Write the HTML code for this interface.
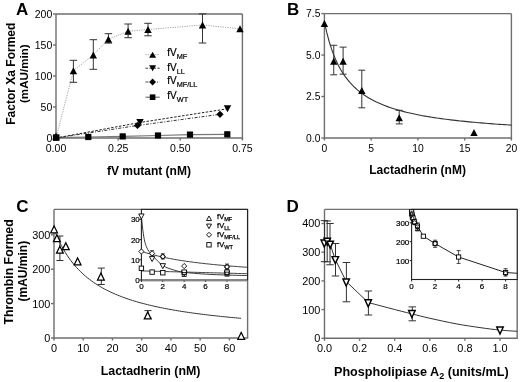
<!DOCTYPE html>
<html><head><meta charset="utf-8"><style>
html,body{margin:0;padding:0;background:#fff;}
svg{display:block;font-family:"Liberation Sans",sans-serif;will-change:transform;}
</style></head><body>
<svg width="520" height="382" viewBox="0 0 520 382">
<rect width="520" height="382" fill="#fff"/>
<text x="16.00" y="15.00" font-size="17" font-weight="bold" text-anchor="start" fill="#000" >A</text>
<line x1="56.00" y1="14.00" x2="242.40" y2="14.00" stroke="#6e6e6e" stroke-width="1.4" />
<line x1="242.40" y1="14.00" x2="242.40" y2="138.00" stroke="#6e6e6e" stroke-width="1.4" />
<line x1="56.00" y1="14.00" x2="56.00" y2="138.00" stroke="#6e6e6e" stroke-width="1.4" />
<line x1="55.30" y1="138.00" x2="243.10" y2="138.00" stroke="#6e6e6e" stroke-width="1.4" />
<line x1="53.00" y1="138.00" x2="56.00" y2="138.00" stroke="#6e6e6e" stroke-width="1.4" />
<text x="52.30" y="141.80" font-size="10.5" font-weight="normal" text-anchor="end" fill="#000" >0</text>
<line x1="53.00" y1="107.00" x2="56.00" y2="107.00" stroke="#6e6e6e" stroke-width="1.4" />
<text x="52.30" y="110.80" font-size="10.5" font-weight="normal" text-anchor="end" fill="#000" >50</text>
<line x1="53.00" y1="76.00" x2="56.00" y2="76.00" stroke="#6e6e6e" stroke-width="1.4" />
<text x="52.30" y="79.80" font-size="10.5" font-weight="normal" text-anchor="end" fill="#000" >100</text>
<line x1="53.00" y1="45.00" x2="56.00" y2="45.00" stroke="#6e6e6e" stroke-width="1.4" />
<text x="52.30" y="48.80" font-size="10.5" font-weight="normal" text-anchor="end" fill="#000" >150</text>
<line x1="53.00" y1="14.00" x2="56.00" y2="14.00" stroke="#6e6e6e" stroke-width="1.4" />
<text x="52.30" y="17.80" font-size="10.5" font-weight="normal" text-anchor="end" fill="#000" >200</text>
<line x1="56.00" y1="138.00" x2="56.00" y2="140.50" stroke="#6e6e6e" stroke-width="1.4" />
<text x="56.00" y="151.50" font-size="10.5" font-weight="normal" text-anchor="middle" fill="#000" >0.00</text>
<line x1="118.13" y1="138.00" x2="118.13" y2="140.50" stroke="#6e6e6e" stroke-width="1.4" />
<text x="118.13" y="151.50" font-size="10.5" font-weight="normal" text-anchor="middle" fill="#000" >0.25</text>
<line x1="180.27" y1="138.00" x2="180.27" y2="140.50" stroke="#6e6e6e" stroke-width="1.4" />
<text x="180.27" y="151.50" font-size="10.5" font-weight="normal" text-anchor="middle" fill="#000" >0.50</text>
<line x1="242.40" y1="138.00" x2="242.40" y2="140.50" stroke="#6e6e6e" stroke-width="1.4" />
<text x="242.40" y="151.50" font-size="10.5" font-weight="normal" text-anchor="middle" fill="#000" >0.75</text>
<text x="148.90" y="174.50" font-size="12" font-weight="bold" text-anchor="middle" fill="#000" >fV mutant (nM)</text>
<text transform="translate(14.50,73.70) rotate(-90)" x="0" y="0" font-size="12" font-weight="bold" text-anchor="middle" fill="#000">Factor Xa Formed</text>
<text transform="translate(28.00,73.70) rotate(-90)" x="0" y="0" font-size="11.6" font-weight="bold" text-anchor="middle" fill="#000">(mAU/min)</text>
<polyline points="56.20,137.60 88.30,137.00 122.70,136.40 158.00,135.50 190.00,134.60 227.30,134.30" fill="none" stroke="#777" stroke-width="1.2" />
<polyline points="56.00,138.00 140.00,122.50 227.50,108.80" fill="none" stroke="#222" stroke-width="1.0" stroke-dasharray="2.5,1.5"/>
<polyline points="56.00,138.00 137.50,125.50 220.00,114.30" fill="none" stroke="#333" stroke-width="1.0" stroke-dasharray="3,1.5,1,1.5"/>
<polyline points="56.00,138.00 73.40,70.70 93.30,55.00 108.40,39.30 128.10,31.30 148.00,29.50 202.50,25.00 240.00,28.80" fill="none" stroke="#999" stroke-width="0.9" stroke-dasharray="1.2,1.2"/>
<line x1="73.40" y1="60.30" x2="73.40" y2="82.30" stroke="#333" stroke-width="1.0" />
<line x1="69.65" y1="60.30" x2="77.15" y2="60.30" stroke="#333" stroke-width="1.0" />
<line x1="69.65" y1="82.30" x2="77.15" y2="82.30" stroke="#333" stroke-width="1.0" />
<line x1="93.30" y1="39.70" x2="93.30" y2="69.30" stroke="#333" stroke-width="1.0" />
<line x1="89.55" y1="39.70" x2="97.05" y2="39.70" stroke="#333" stroke-width="1.0" />
<line x1="89.55" y1="69.30" x2="97.05" y2="69.30" stroke="#333" stroke-width="1.0" />
<line x1="108.40" y1="33.70" x2="108.40" y2="43.10" stroke="#333" stroke-width="1.0" />
<line x1="104.65" y1="33.70" x2="112.15" y2="33.70" stroke="#333" stroke-width="1.0" />
<line x1="104.65" y1="43.10" x2="112.15" y2="43.10" stroke="#333" stroke-width="1.0" />
<line x1="128.10" y1="24.00" x2="128.10" y2="37.70" stroke="#333" stroke-width="1.0" />
<line x1="124.35" y1="24.00" x2="131.85" y2="24.00" stroke="#333" stroke-width="1.0" />
<line x1="124.35" y1="37.70" x2="131.85" y2="37.70" stroke="#333" stroke-width="1.0" />
<line x1="148.00" y1="23.30" x2="148.00" y2="35.80" stroke="#333" stroke-width="1.0" />
<line x1="144.25" y1="23.30" x2="151.75" y2="23.30" stroke="#333" stroke-width="1.0" />
<line x1="144.25" y1="35.80" x2="151.75" y2="35.80" stroke="#333" stroke-width="1.0" />
<line x1="202.50" y1="13.90" x2="202.50" y2="43.00" stroke="#333" stroke-width="1.0" />
<line x1="198.75" y1="13.90" x2="206.25" y2="13.90" stroke="#333" stroke-width="1.0" />
<line x1="198.75" y1="43.00" x2="206.25" y2="43.00" stroke="#333" stroke-width="1.0" />
<polygon points="73.40,67.20 77.10,74.20 69.70,74.20" fill="#000" stroke="none" stroke-width="0" stroke-linejoin="miter"/>
<polygon points="93.30,51.50 97.00,58.50 89.60,58.50" fill="#000" stroke="none" stroke-width="0" stroke-linejoin="miter"/>
<polygon points="108.40,35.80 112.10,42.80 104.70,42.80" fill="#000" stroke="none" stroke-width="0" stroke-linejoin="miter"/>
<polygon points="128.10,27.80 131.80,34.80 124.40,34.80" fill="#000" stroke="none" stroke-width="0" stroke-linejoin="miter"/>
<polygon points="148.00,26.00 151.70,33.00 144.30,33.00" fill="#000" stroke="none" stroke-width="0" stroke-linejoin="miter"/>
<polygon points="202.50,21.50 206.20,28.50 198.80,28.50" fill="#000" stroke="none" stroke-width="0" stroke-linejoin="miter"/>
<polygon points="240.00,25.30 243.70,32.30 236.30,32.30" fill="#000" stroke="none" stroke-width="0" stroke-linejoin="miter"/>
<polygon points="56.00,132.50 59.70,139.50 52.30,139.50" fill="#000" stroke="none" stroke-width="0" stroke-linejoin="miter"/>
<polygon points="140.00,126.00 143.70,119.00 136.30,119.00" fill="#000" stroke="none" stroke-width="0" stroke-linejoin="miter"/>
<polygon points="227.50,112.30 231.20,105.30 223.80,105.30" fill="#000" stroke="none" stroke-width="0" stroke-linejoin="miter"/>
<polygon points="137.50,121.90 141.10,125.50 137.50,129.10 133.90,125.50" fill="#000" stroke="none" stroke-width="0"/>
<polygon points="220.00,110.70 223.60,114.30 220.00,117.90 216.40,114.30" fill="#000" stroke="none" stroke-width="0"/>
<rect x="52.90" y="134.30" width="6.60" height="6.60" fill="#000" stroke="none" stroke-width="0"/>
<rect x="85.20" y="133.90" width="6.20" height="6.20" fill="#000" stroke="none" stroke-width="0"/>
<rect x="119.60" y="133.30" width="6.20" height="6.20" fill="#000" stroke="none" stroke-width="0"/>
<rect x="154.90" y="132.40" width="6.20" height="6.20" fill="#000" stroke="none" stroke-width="0"/>
<rect x="186.90" y="131.50" width="6.20" height="6.20" fill="#000" stroke="none" stroke-width="0"/>
<rect x="224.20" y="131.20" width="6.20" height="6.20" fill="#000" stroke="none" stroke-width="0"/>
<polyline points="145.50,54.70 159.70,54.70" fill="none" stroke="#999" stroke-width="0.9" stroke-dasharray="1.2,1.2"/>
<polygon points="152.60,51.70 156.10,57.70 149.10,57.70" fill="#000" stroke="none" stroke-width="0" stroke-linejoin="miter"/>
<text x="167.3" y="56.30" font-size="10" fill="#000" stroke="#000" stroke-width="0.2">fV<tspan font-size="7.3" dy="3">MF</tspan></text>
<polyline points="145.50,68.20 159.70,68.20" fill="none" stroke="#222" stroke-width="0.9" stroke-dasharray="2.5,1.5"/>
<polygon points="152.60,71.20 156.10,65.20 149.10,65.20" fill="#000" stroke="none" stroke-width="0" stroke-linejoin="miter"/>
<text x="167.3" y="70.80" font-size="10" fill="#000" stroke="#000" stroke-width="0.2">fV<tspan font-size="7.3" dy="3">LL</tspan></text>
<polyline points="145.50,82.00 159.70,82.00" fill="none" stroke="#333" stroke-width="0.9" stroke-dasharray="3,1.5,1,1.5"/>
<polygon points="152.60,78.60 156.00,82.00 152.60,85.40 149.20,82.00" fill="#000" stroke="none" stroke-width="0"/>
<text x="167.3" y="84.20" font-size="10" fill="#000" stroke="#000" stroke-width="0.2">fV<tspan font-size="7.3" dy="3">MF/LL</tspan></text>
<polyline points="145.50,97.20 159.70,97.20" fill="none" stroke="#777" stroke-width="1.2" />
<rect x="149.80" y="94.40" width="5.60" height="5.60" fill="#000" stroke="none" stroke-width="0"/>
<text x="167.3" y="99.30" font-size="10" fill="#000" stroke="#000" stroke-width="0.2">fV<tspan font-size="7.3" dy="3">WT</tspan></text>
<text x="287.00" y="15.00" font-size="17" font-weight="bold" text-anchor="start" fill="#000" >B</text>
<line x1="324.40" y1="13.60" x2="511.40" y2="13.60" stroke="#6e6e6e" stroke-width="1.4" />
<line x1="511.40" y1="13.60" x2="511.40" y2="138.00" stroke="#6e6e6e" stroke-width="1.4" />
<line x1="324.40" y1="13.60" x2="324.40" y2="138.00" stroke="#6e6e6e" stroke-width="1.4" />
<line x1="323.70" y1="138.00" x2="512.10" y2="138.00" stroke="#6e6e6e" stroke-width="1.4" />
<line x1="321.40" y1="138.00" x2="324.40" y2="138.00" stroke="#6e6e6e" stroke-width="1.4" />
<text x="320.40" y="141.70" font-size="10.3" font-weight="normal" text-anchor="end" fill="#000" >0.0</text>
<line x1="321.40" y1="96.53" x2="324.40" y2="96.53" stroke="#6e6e6e" stroke-width="1.4" />
<text x="320.40" y="100.23" font-size="10.3" font-weight="normal" text-anchor="end" fill="#000" >2.5</text>
<line x1="321.40" y1="55.07" x2="324.40" y2="55.07" stroke="#6e6e6e" stroke-width="1.4" />
<text x="320.40" y="58.77" font-size="10.3" font-weight="normal" text-anchor="end" fill="#000" >5.0</text>
<line x1="321.40" y1="13.60" x2="324.40" y2="13.60" stroke="#6e6e6e" stroke-width="1.4" />
<text x="320.40" y="17.30" font-size="10.3" font-weight="normal" text-anchor="end" fill="#000" >7.5</text>
<line x1="324.40" y1="138.00" x2="324.40" y2="140.50" stroke="#6e6e6e" stroke-width="1.4" />
<text x="324.40" y="151.50" font-size="10.3" font-weight="normal" text-anchor="middle" fill="#000" >0</text>
<line x1="371.15" y1="138.00" x2="371.15" y2="140.50" stroke="#6e6e6e" stroke-width="1.4" />
<text x="371.15" y="151.50" font-size="10.3" font-weight="normal" text-anchor="middle" fill="#000" >5</text>
<line x1="417.90" y1="138.00" x2="417.90" y2="140.50" stroke="#6e6e6e" stroke-width="1.4" />
<text x="417.90" y="151.50" font-size="10.3" font-weight="normal" text-anchor="middle" fill="#000" >10</text>
<line x1="464.65" y1="138.00" x2="464.65" y2="140.50" stroke="#6e6e6e" stroke-width="1.4" />
<text x="464.65" y="151.50" font-size="10.3" font-weight="normal" text-anchor="middle" fill="#000" >15</text>
<line x1="511.40" y1="138.00" x2="511.40" y2="140.50" stroke="#6e6e6e" stroke-width="1.4" />
<text x="511.40" y="151.50" font-size="10.3" font-weight="normal" text-anchor="middle" fill="#000" >20</text>
<text x="417.60" y="174.00" font-size="12" font-weight="bold" text-anchor="middle" fill="#000" >Lactadherin (nM)</text>
<path d="M324.40,21.89 L326.74,32.45 L329.07,41.24 L331.41,48.69 L333.75,55.07 L336.09,60.60 L338.42,65.43 L340.76,69.70 L343.10,73.50 L345.44,76.89 L347.77,79.95 L350.11,82.71 L352.45,85.22 L354.79,87.52 L357.12,89.62 L359.46,91.56 L361.80,93.34 L364.14,95.00 L366.47,96.53 L368.81,97.96 L371.15,99.30 L373.49,100.55 L375.82,101.72 L378.16,102.82 L380.50,103.85 L382.84,104.83 L385.17,105.75 L387.51,106.62 L389.85,107.45 L392.19,108.23 L394.52,108.97 L396.86,109.68 L399.20,110.36 L401.54,111.00 L403.88,111.61 L406.21,112.20 L408.55,112.76 L410.89,113.30 L413.22,113.81 L415.56,114.30 L417.90,114.78 L420.24,115.23 L422.57,115.67 L424.91,116.09 L427.25,116.50 L429.59,116.89 L431.92,117.27 L434.26,117.63 L436.60,117.98 L438.94,118.32 L441.27,118.65 L443.61,118.97 L445.95,119.27 L448.29,119.57 L450.62,119.86 L452.96,120.14 L455.30,120.41 L457.64,120.67 L459.97,120.93 L462.31,121.17 L464.65,121.41 L466.99,121.65 L469.32,121.87 L471.66,122.09 L474.00,122.31 L476.34,122.52 L478.67,122.72 L481.01,122.92 L483.35,123.11 L485.69,123.30 L488.02,123.49 L490.36,123.67 L492.70,123.84 L495.04,124.01 L497.38,124.18 L499.71,124.34 L502.05,124.50 L504.39,124.65 L506.72,124.81 L509.06,124.95 L511.40,125.10" fill="none" stroke="#333" stroke-width="1.1" />
<line x1="333.75" y1="45.28" x2="333.75" y2="74.80" stroke="#333" stroke-width="1.0" />
<line x1="330.25" y1="45.28" x2="337.25" y2="45.28" stroke="#333" stroke-width="1.0" />
<line x1="330.25" y1="74.80" x2="337.25" y2="74.80" stroke="#333" stroke-width="1.0" />
<line x1="343.10" y1="47.11" x2="343.10" y2="74.14" stroke="#333" stroke-width="1.0" />
<line x1="339.60" y1="47.11" x2="346.60" y2="47.11" stroke="#333" stroke-width="1.0" />
<line x1="339.60" y1="74.14" x2="346.60" y2="74.14" stroke="#333" stroke-width="1.0" />
<line x1="361.80" y1="70.16" x2="361.80" y2="107.81" stroke="#333" stroke-width="1.0" />
<line x1="358.30" y1="70.16" x2="365.30" y2="70.16" stroke="#333" stroke-width="1.0" />
<line x1="358.30" y1="107.81" x2="365.30" y2="107.81" stroke="#333" stroke-width="1.0" />
<line x1="399.20" y1="110.30" x2="399.20" y2="123.90" stroke="#333" stroke-width="1.0" />
<line x1="395.70" y1="110.30" x2="402.70" y2="110.30" stroke="#333" stroke-width="1.0" />
<line x1="395.70" y1="123.90" x2="402.70" y2="123.90" stroke="#333" stroke-width="1.0" />
<polygon points="324.40,20.05 328.10,27.05 320.70,27.05" fill="#000" stroke="none" stroke-width="0" stroke-linejoin="miter"/>
<polygon points="333.75,57.87 337.45,64.87 330.05,64.87" fill="#000" stroke="none" stroke-width="0" stroke-linejoin="miter"/>
<polygon points="343.10,57.87 346.80,64.87 339.40,64.87" fill="#000" stroke="none" stroke-width="0" stroke-linejoin="miter"/>
<polygon points="361.80,86.90 365.50,93.90 358.10,93.90" fill="#000" stroke="none" stroke-width="0" stroke-linejoin="miter"/>
<polygon points="399.20,114.26 402.90,121.26 395.50,121.26" fill="#000" stroke="none" stroke-width="0" stroke-linejoin="miter"/>
<polygon points="474.00,129.03 477.70,136.03 470.30,136.03" fill="#000" stroke="none" stroke-width="0" stroke-linejoin="miter"/>
<text x="16.30" y="211.90" font-size="17" font-weight="bold" text-anchor="start" fill="#000" >C</text>
<line x1="54.00" y1="209.40" x2="247.60" y2="209.40" stroke="#6e6e6e" stroke-width="1.4" />
<line x1="247.60" y1="209.40" x2="247.60" y2="338.00" stroke="#6e6e6e" stroke-width="1.4" />
<line x1="54.00" y1="209.40" x2="54.00" y2="338.00" stroke="#6e6e6e" stroke-width="1.4" />
<line x1="53.30" y1="338.00" x2="248.30" y2="338.00" stroke="#6e6e6e" stroke-width="1.4" />
<line x1="51.00" y1="338.00" x2="54.00" y2="338.00" stroke="#6e6e6e" stroke-width="1.4" />
<text x="50.40" y="341.90" font-size="10.9" font-weight="normal" text-anchor="end" fill="#000" >0</text>
<line x1="51.00" y1="303.60" x2="54.00" y2="303.60" stroke="#6e6e6e" stroke-width="1.4" />
<text x="50.40" y="307.50" font-size="10.9" font-weight="normal" text-anchor="end" fill="#000" >100</text>
<line x1="51.00" y1="269.20" x2="54.00" y2="269.20" stroke="#6e6e6e" stroke-width="1.4" />
<text x="50.40" y="273.10" font-size="10.9" font-weight="normal" text-anchor="end" fill="#000" >200</text>
<line x1="51.00" y1="234.80" x2="54.00" y2="234.80" stroke="#6e6e6e" stroke-width="1.4" />
<text x="50.40" y="238.70" font-size="10.9" font-weight="normal" text-anchor="end" fill="#000" >300</text>
<line x1="54.00" y1="338.00" x2="54.00" y2="340.50" stroke="#6e6e6e" stroke-width="1.4" />
<text x="54.00" y="351.70" font-size="10.9" font-weight="normal" text-anchor="middle" fill="#000" >0</text>
<line x1="83.23" y1="338.00" x2="83.23" y2="340.50" stroke="#6e6e6e" stroke-width="1.4" />
<text x="83.23" y="351.70" font-size="10.9" font-weight="normal" text-anchor="middle" fill="#000" >10</text>
<line x1="112.46" y1="338.00" x2="112.46" y2="340.50" stroke="#6e6e6e" stroke-width="1.4" />
<text x="112.46" y="351.70" font-size="10.9" font-weight="normal" text-anchor="middle" fill="#000" >20</text>
<line x1="141.69" y1="338.00" x2="141.69" y2="340.50" stroke="#6e6e6e" stroke-width="1.4" />
<text x="141.69" y="351.70" font-size="10.9" font-weight="normal" text-anchor="middle" fill="#000" >30</text>
<line x1="170.92" y1="338.00" x2="170.92" y2="340.50" stroke="#6e6e6e" stroke-width="1.4" />
<text x="170.92" y="351.70" font-size="10.9" font-weight="normal" text-anchor="middle" fill="#000" >40</text>
<line x1="200.15" y1="338.00" x2="200.15" y2="340.50" stroke="#6e6e6e" stroke-width="1.4" />
<text x="200.15" y="351.70" font-size="10.9" font-weight="normal" text-anchor="middle" fill="#000" >50</text>
<line x1="229.38" y1="338.00" x2="229.38" y2="340.50" stroke="#6e6e6e" stroke-width="1.4" />
<text x="229.38" y="351.70" font-size="10.9" font-weight="normal" text-anchor="middle" fill="#000" >60</text>
<text x="150.60" y="375.20" font-size="12.4" font-weight="bold" text-anchor="middle" fill="#000" >Lactadherin (nM)</text>
<text transform="translate(12.60,271.90) rotate(-90)" x="0" y="0" font-size="12.3" font-weight="bold" text-anchor="middle" fill="#000">Thrombin Formed</text>
<text transform="translate(26.50,271.20) rotate(-90)" x="0" y="0" font-size="12.0" font-weight="bold" text-anchor="middle" fill="#000">(mAU/min)</text>
<path d="M54.00,228.95 L55.87,233.69 L57.74,238.03 L59.61,242.02 L61.48,245.71 L63.35,249.12 L65.22,252.29 L67.10,255.25 L68.97,258.00 L70.84,260.58 L72.71,263.00 L74.58,265.27 L76.45,267.40 L78.32,269.42 L80.19,271.32 L82.06,273.12 L83.93,274.83 L85.80,276.45 L87.67,277.99 L89.54,279.45 L91.41,280.84 L93.29,282.17 L95.16,283.44 L97.03,284.65 L98.90,285.81 L100.77,286.92 L102.64,287.98 L104.51,289.00 L106.38,289.98 L108.25,290.92 L110.12,291.83 L111.99,292.70 L113.86,293.54 L115.73,294.34 L117.60,295.12 L119.48,295.87 L121.35,296.60 L123.22,297.30 L125.09,297.98 L126.96,298.64 L128.83,299.27 L130.70,299.88 L132.57,300.48 L134.44,301.06 L136.31,301.62 L138.18,302.16 L140.05,302.69 L141.92,303.20 L143.79,303.69 L145.67,304.18 L147.54,304.65 L149.41,305.10 L151.28,305.55 L153.15,305.98 L155.02,306.40 L156.89,306.81 L158.76,307.21 L160.63,307.60 L162.50,307.98 L164.37,308.35 L166.24,308.71 L168.11,309.07 L169.98,309.41 L171.86,309.75 L173.73,310.07 L175.60,310.40 L177.47,310.71 L179.34,311.02 L181.21,311.32 L183.08,311.61 L184.95,311.90 L186.82,312.18 L188.69,312.45 L190.56,312.72 L192.43,312.98 L194.30,313.24 L196.17,313.49 L198.05,313.74 L199.92,313.98 L201.79,314.22 L203.66,314.45 L205.53,314.68 L207.40,314.91 L209.27,315.13 L211.14,315.34 L213.01,315.55 L214.88,315.76 L216.75,315.97 L218.62,316.17 L220.49,316.36 L222.36,316.56 L224.24,316.75 L226.11,316.93 L227.98,317.11 L229.85,317.29 L231.72,317.47 L233.59,317.65 L235.46,317.82 L237.33,317.98 L239.20,318.15 L241.07,318.31" fill="none" stroke="#333" stroke-width="1.0" />
<line x1="59.90" y1="236.00" x2="59.90" y2="260.50" stroke="#333" stroke-width="1.0" />
<line x1="56.40" y1="236.00" x2="63.40" y2="236.00" stroke="#333" stroke-width="1.0" />
<line x1="56.40" y1="260.50" x2="63.40" y2="260.50" stroke="#333" stroke-width="1.0" />
<line x1="101.30" y1="268.10" x2="101.30" y2="284.50" stroke="#333" stroke-width="1.0" />
<line x1="97.80" y1="268.10" x2="104.80" y2="268.10" stroke="#333" stroke-width="1.0" />
<line x1="97.80" y1="284.50" x2="104.80" y2="284.50" stroke="#333" stroke-width="1.0" />
<line x1="148.00" y1="310.60" x2="148.00" y2="318.00" stroke="#333" stroke-width="1.0" />
<line x1="144.50" y1="310.60" x2="151.50" y2="310.60" stroke="#333" stroke-width="1.0" />
<line x1="144.50" y1="318.00" x2="151.50" y2="318.00" stroke="#333" stroke-width="1.0" />
<polygon points="54.10,225.93 57.50,232.82 50.70,232.82" fill="#fff" stroke="#000" stroke-width="1.25" stroke-linejoin="miter"/>
<polygon points="56.90,234.73 60.30,241.62 53.50,241.62" fill="#fff" stroke="#000" stroke-width="1.25" stroke-linejoin="miter"/>
<polygon points="59.90,246.23 63.30,253.12 56.50,253.12" fill="#fff" stroke="#000" stroke-width="1.25" stroke-linejoin="miter"/>
<polygon points="65.80,242.73 69.20,249.62 62.40,249.62" fill="#fff" stroke="#000" stroke-width="1.25" stroke-linejoin="miter"/>
<polygon points="77.60,257.93 81.00,264.82 74.20,264.82" fill="#fff" stroke="#000" stroke-width="1.25" stroke-linejoin="miter"/>
<polygon points="100.90,273.12 104.30,280.02 97.50,280.02" fill="#fff" stroke="#000" stroke-width="1.25" stroke-linejoin="miter"/>
<polygon points="147.70,312.03 151.10,318.93 144.30,318.93" fill="#fff" stroke="#000" stroke-width="1.25" stroke-linejoin="miter"/>
<polygon points="241.20,332.43 244.60,339.32 237.80,339.32" fill="#fff" stroke="#000" stroke-width="1.25" stroke-linejoin="miter"/>
<rect x="141.40" y="209.40" width="106.10" height="70.60" fill="#fff" stroke="#222" stroke-width="1.1"/>
<line x1="139.40" y1="280.00" x2="141.40" y2="280.00" stroke="#222" stroke-width="1.0" />
<text x="139.80" y="282.90" font-size="8" font-weight="normal" text-anchor="end" fill="#000" stroke="#000" stroke-width="0.2">0</text>
<line x1="139.40" y1="259.80" x2="141.40" y2="259.80" stroke="#222" stroke-width="1.0" />
<text x="139.80" y="262.70" font-size="8" font-weight="normal" text-anchor="end" fill="#000" stroke="#000" stroke-width="0.2">10</text>
<line x1="139.40" y1="239.60" x2="141.40" y2="239.60" stroke="#222" stroke-width="1.0" />
<text x="139.80" y="242.50" font-size="8" font-weight="normal" text-anchor="end" fill="#000" stroke="#000" stroke-width="0.2">20</text>
<line x1="139.40" y1="219.40" x2="141.40" y2="219.40" stroke="#222" stroke-width="1.0" />
<text x="139.80" y="222.30" font-size="8" font-weight="normal" text-anchor="end" fill="#000" stroke="#000" stroke-width="0.2">30</text>
<line x1="141.40" y1="280.00" x2="141.40" y2="282.00" stroke="#222" stroke-width="1.0" />
<text x="141.40" y="289.30" font-size="8" font-weight="normal" text-anchor="middle" fill="#000" stroke="#000" stroke-width="0.2">0</text>
<line x1="162.80" y1="280.00" x2="162.80" y2="282.00" stroke="#222" stroke-width="1.0" />
<text x="162.80" y="289.30" font-size="8" font-weight="normal" text-anchor="middle" fill="#000" stroke="#000" stroke-width="0.2">2</text>
<line x1="184.20" y1="280.00" x2="184.20" y2="282.00" stroke="#222" stroke-width="1.0" />
<text x="184.20" y="289.30" font-size="8" font-weight="normal" text-anchor="middle" fill="#000" stroke="#000" stroke-width="0.2">4</text>
<line x1="205.60" y1="280.00" x2="205.60" y2="282.00" stroke="#222" stroke-width="1.0" />
<text x="205.60" y="289.30" font-size="8" font-weight="normal" text-anchor="middle" fill="#000" stroke="#000" stroke-width="0.2">6</text>
<line x1="227.00" y1="280.00" x2="227.00" y2="282.00" stroke="#222" stroke-width="1.0" />
<text x="227.00" y="289.30" font-size="8" font-weight="normal" text-anchor="middle" fill="#000" stroke="#000" stroke-width="0.2">8</text>
<path d="M141.40,216.37 C141.72,219.27 142.63,229.06 143.33,233.74 C144.02,238.42 144.66,241.55 145.57,244.45 C146.48,247.34 147.59,249.19 148.78,251.11 C149.98,253.03 150.41,253.57 152.74,255.96 C155.08,258.35 159.34,263.13 162.80,265.46 C166.26,267.78 169.93,268.76 173.50,269.90 C177.07,271.04 178.85,271.62 184.20,272.32 C189.55,273.03 198.47,273.69 205.60,274.14 C212.73,274.60 219.92,274.82 227.00,275.05 C234.08,275.29 244.57,275.47 248.08,275.56" fill="none" stroke="#222" stroke-width="0.9" />
<path d="M141.40,251.32 L142.73,251.76 L144.07,252.19 L145.40,252.61 L146.73,253.02 L148.07,253.41 L149.40,253.80 L150.73,254.17 L152.07,254.53 L153.40,254.88 L154.73,255.22 L156.07,255.56 L157.40,255.88 L158.74,256.20 L160.07,256.50 L161.40,256.80 L162.74,257.10 L164.07,257.38 L165.40,257.66 L166.74,257.93 L168.07,258.20 L169.40,258.45 L170.74,258.71 L172.07,258.95 L173.40,259.19 L174.74,259.43 L176.07,259.66 L177.40,259.88 L178.74,260.10 L180.07,260.32 L181.40,260.53 L182.74,260.74 L184.07,260.94 L185.41,261.14 L186.74,261.33 L188.07,261.52 L189.41,261.71 L190.74,261.89 L192.07,262.07 L193.41,262.24 L194.74,262.41 L196.07,262.58 L197.41,262.75 L198.74,262.91 L200.07,263.07 L201.41,263.22 L202.74,263.38 L204.07,263.53 L205.41,263.68 L206.74,263.82 L208.07,263.96 L209.41,264.10 L210.74,264.24 L212.07,264.38 L213.41,264.51 L214.74,264.64 L216.08,264.77 L217.41,264.90 L218.74,265.02 L220.08,265.14 L221.41,265.26 L222.74,265.38 L224.08,265.50 L225.41,265.61 L226.74,265.73 L228.08,265.84 L229.41,265.95 L230.74,266.06 L232.08,266.16 L233.41,266.27 L234.74,266.37 L236.08,266.47 L237.41,266.57 L238.74,266.67 L240.08,266.77 L241.41,266.86 L242.75,266.96 L244.08,267.05 L245.41,267.14 L246.75,267.23 L248.08,267.32" fill="none" stroke="#222" stroke-width="0.9" />
<path d="M141.40,270.91 L142.73,270.95 L144.07,270.98 L145.40,271.02 L146.73,271.05 L148.07,271.09 L149.40,271.12 L150.73,271.16 L152.07,271.19 L153.40,271.23 L154.73,271.26 L156.07,271.30 L157.40,271.33 L158.74,271.37 L160.07,271.40 L161.40,271.44 L162.74,271.47 L164.07,271.51 L165.40,271.54 L166.74,271.58 L168.07,271.61 L169.40,271.65 L170.74,271.69 L172.07,271.72 L173.40,271.76 L174.74,271.79 L176.07,271.83 L177.40,271.86 L178.74,271.90 L180.07,271.93 L181.40,271.97 L182.74,272.00 L184.07,272.04 L185.41,272.07 L186.74,272.11 L188.07,272.14 L189.41,272.18 L190.74,272.21 L192.07,272.25 L193.41,272.28 L194.74,272.32 L196.07,272.36 L197.41,272.39 L198.74,272.43 L200.07,272.46 L201.41,272.50 L202.74,272.53 L204.07,272.57 L205.41,272.60 L206.74,272.64 L208.07,272.67 L209.41,272.71 L210.74,272.74 L212.07,272.78 L213.41,272.81 L214.74,272.85 L216.08,272.88 L217.41,272.92 L218.74,272.95 L220.08,272.99 L221.41,273.02 L222.74,273.06 L224.08,273.10 L225.41,273.13 L226.74,273.17 L228.08,273.20 L229.41,273.24 L230.74,273.27 L232.08,273.31 L233.41,273.34 L234.74,273.38 L236.08,273.41 L237.41,273.45 L238.74,273.48 L240.08,273.52 L241.41,273.55 L242.75,273.59 L244.08,273.62 L245.41,273.66 L246.75,273.69 L248.08,273.73" fill="none" stroke="#222" stroke-width="0.9" />
<line x1="141.90" y1="280.90" x2="247.50" y2="280.90" stroke="#888" stroke-width="1.0" />
<line x1="152.10" y1="250.71" x2="152.10" y2="255.96" stroke="#333" stroke-width="0.9" />
<line x1="150.10" y1="250.71" x2="154.10" y2="250.71" stroke="#333" stroke-width="0.9" />
<line x1="150.10" y1="255.96" x2="154.10" y2="255.96" stroke="#333" stroke-width="0.9" />
<line x1="162.80" y1="253.74" x2="162.80" y2="258.99" stroke="#333" stroke-width="0.9" />
<line x1="160.80" y1="253.74" x2="164.80" y2="253.74" stroke="#333" stroke-width="0.9" />
<line x1="160.80" y1="258.99" x2="164.80" y2="258.99" stroke="#333" stroke-width="0.9" />
<line x1="227.00" y1="264.04" x2="227.00" y2="269.29" stroke="#333" stroke-width="0.9" />
<line x1="225.00" y1="264.04" x2="229.00" y2="264.04" stroke="#333" stroke-width="0.9" />
<line x1="225.00" y1="269.29" x2="229.00" y2="269.29" stroke="#333" stroke-width="0.9" />
<polygon points="141.40,218.96 144.10,213.96 138.70,213.96" fill="#fff" stroke="#000" stroke-width="0.9" stroke-linejoin="miter"/>
<polygon points="152.10,261.58 154.80,256.58 149.40,256.58" fill="#fff" stroke="#000" stroke-width="0.9" stroke-linejoin="miter"/>
<polygon points="162.80,268.65 165.50,263.65 160.10,263.65" fill="#fff" stroke="#000" stroke-width="0.9" stroke-linejoin="miter"/>
<polygon points="184.20,275.92 186.90,270.92 181.50,270.92" fill="#fff" stroke="#000" stroke-width="0.9" stroke-linejoin="miter"/>
<polygon points="227.00,275.92 229.70,270.92 224.30,270.92" fill="#fff" stroke="#000" stroke-width="0.9" stroke-linejoin="miter"/>
<polygon points="141.40,248.92 144.00,251.52 141.40,254.12 138.80,251.52" fill="#fff" stroke="#000" stroke-width="0.9"/>
<polygon points="152.10,250.74 154.70,253.34 152.10,255.94 149.50,253.34" fill="#fff" stroke="#000" stroke-width="0.9"/>
<polygon points="162.80,253.97 165.40,256.57 162.80,259.17 160.20,256.57" fill="#fff" stroke="#000" stroke-width="0.9"/>
<polygon points="184.20,263.46 186.80,266.06 184.20,268.66 181.60,266.06" fill="#fff" stroke="#000" stroke-width="0.9"/>
<polygon points="227.00,264.27 229.60,266.87 227.00,269.47 224.40,266.87" fill="#fff" stroke="#000" stroke-width="0.9"/>
<rect x="139.20" y="266.08" width="4.40" height="4.40" fill="#fff" stroke="#000" stroke-width="0.9"/>
<rect x="149.90" y="269.92" width="4.40" height="4.40" fill="#fff" stroke="#000" stroke-width="0.9"/>
<rect x="160.60" y="270.53" width="4.40" height="4.40" fill="#fff" stroke="#000" stroke-width="0.9"/>
<rect x="182.00" y="269.92" width="4.40" height="4.40" fill="#fff" stroke="#000" stroke-width="0.9"/>
<rect x="224.80" y="269.92" width="4.40" height="4.40" fill="#fff" stroke="#000" stroke-width="0.9"/>
<rect x="182.20" y="272.55" width="4.00" height="4.00" fill="none" stroke="#000" stroke-width="0.8"/>
<rect x="225.00" y="272.14" width="4.00" height="4.00" fill="none" stroke="#000" stroke-width="0.8"/>
<circle cx="162.80" cy="256.57" r="2.1" fill="none" stroke="#000" stroke-width="0.8"/>
<circle cx="227.00" cy="266.87" r="2.1" fill="none" stroke="#000" stroke-width="0.8"/>
<polygon points="209.00,215.97 211.50,220.57 206.50,220.57" fill="#fff" stroke="#000" stroke-width="0.9" stroke-linejoin="miter"/>
<text x="217.1" y="219.20" font-size="7.5" fill="#000" stroke="#000" stroke-width="0.25">fV<tspan font-size="5.6" dy="2.1">MF</tspan></text>
<polygon points="209.00,228.69 211.50,224.09 206.50,224.09" fill="#fff" stroke="#000" stroke-width="0.9" stroke-linejoin="miter"/>
<text x="217.1" y="227.80" font-size="7.5" fill="#000" stroke="#000" stroke-width="0.25">fV<tspan font-size="5.6" dy="2.1">LL</tspan></text>
<polygon points="209.00,232.30 211.50,234.80 209.00,237.30 206.50,234.80" fill="#fff" stroke="#000" stroke-width="0.9"/>
<text x="217.1" y="236.80" font-size="7.5" fill="#000" stroke="#000" stroke-width="0.25">fV<tspan font-size="5.6" dy="2.1">MF/LL</tspan></text>
<rect x="206.80" y="242.60" width="4.40" height="4.40" fill="#fff" stroke="#000" stroke-width="0.9"/>
<text x="217.1" y="246.80" font-size="7.5" fill="#000" stroke="#000" stroke-width="0.25">fV<tspan font-size="5.6" dy="2.1">WT</tspan></text>
<text x="286.50" y="212.00" font-size="17" font-weight="bold" text-anchor="start" fill="#000" >D</text>
<line x1="324.50" y1="209.40" x2="517.20" y2="209.40" stroke="#6e6e6e" stroke-width="1.4" />
<line x1="517.20" y1="209.40" x2="517.20" y2="338.30" stroke="#6e6e6e" stroke-width="1.4" />
<line x1="324.50" y1="209.40" x2="324.50" y2="338.30" stroke="#6e6e6e" stroke-width="1.4" />
<line x1="323.80" y1="338.30" x2="517.90" y2="338.30" stroke="#6e6e6e" stroke-width="1.4" />
<line x1="321.50" y1="338.30" x2="324.50" y2="338.30" stroke="#6e6e6e" stroke-width="1.4" />
<text x="320.40" y="342.20" font-size="10.9" font-weight="normal" text-anchor="end" fill="#000" >0</text>
<line x1="321.50" y1="309.60" x2="324.50" y2="309.60" stroke="#6e6e6e" stroke-width="1.4" />
<text x="320.40" y="313.50" font-size="10.9" font-weight="normal" text-anchor="end" fill="#000" >100</text>
<line x1="321.50" y1="280.90" x2="324.50" y2="280.90" stroke="#6e6e6e" stroke-width="1.4" />
<text x="320.40" y="284.80" font-size="10.9" font-weight="normal" text-anchor="end" fill="#000" >200</text>
<line x1="321.50" y1="252.20" x2="324.50" y2="252.20" stroke="#6e6e6e" stroke-width="1.4" />
<text x="320.40" y="256.10" font-size="10.9" font-weight="normal" text-anchor="end" fill="#000" >300</text>
<line x1="321.50" y1="223.50" x2="324.50" y2="223.50" stroke="#6e6e6e" stroke-width="1.4" />
<text x="320.40" y="227.40" font-size="10.9" font-weight="normal" text-anchor="end" fill="#000" >400</text>
<line x1="324.50" y1="338.30" x2="324.50" y2="340.80" stroke="#6e6e6e" stroke-width="1.4" />
<text x="324.50" y="351.60" font-size="10.9" font-weight="normal" text-anchor="middle" fill="#000" >0.0</text>
<line x1="359.60" y1="338.30" x2="359.60" y2="340.80" stroke="#6e6e6e" stroke-width="1.4" />
<text x="359.60" y="351.60" font-size="10.9" font-weight="normal" text-anchor="middle" fill="#000" >0.2</text>
<line x1="394.70" y1="338.30" x2="394.70" y2="340.80" stroke="#6e6e6e" stroke-width="1.4" />
<text x="394.70" y="351.60" font-size="10.9" font-weight="normal" text-anchor="middle" fill="#000" >0.4</text>
<line x1="429.80" y1="338.30" x2="429.80" y2="340.80" stroke="#6e6e6e" stroke-width="1.4" />
<text x="429.80" y="351.60" font-size="10.9" font-weight="normal" text-anchor="middle" fill="#000" >0.6</text>
<line x1="464.90" y1="338.30" x2="464.90" y2="340.80" stroke="#6e6e6e" stroke-width="1.4" />
<text x="464.90" y="351.60" font-size="10.9" font-weight="normal" text-anchor="middle" fill="#000" >0.8</text>
<line x1="500.00" y1="338.30" x2="500.00" y2="340.80" stroke="#6e6e6e" stroke-width="1.4" />
<text x="500.00" y="351.60" font-size="10.9" font-weight="normal" text-anchor="middle" fill="#000" >1.0</text>
<text x="334.0" y="375.5" font-size="12.6" font-weight="bold" fill="#000">Phospholipiase A<tspan font-size="9" font-weight="bold" dy="3.4">2</tspan><tspan dy="-3.4"> (units/mL)</tspan></text>
<polyline points="324.50,243.00 327.20,242.00 330.20,244.50 335.30,259.50 346.20,281.50 368.20,302.50" fill="none" stroke="#333" stroke-width="1.0" />
<path d="M368.20,302.50 C371.83,303.47 382.72,306.40 390.00,308.30 C397.28,310.20 405.23,312.23 411.90,313.90 C418.57,315.57 422.65,316.65 430.00,318.30 C437.35,319.95 447.67,322.25 456.00,323.80 C464.33,325.35 472.67,326.55 480.00,327.60 C487.33,328.65 493.80,329.48 500.00,330.10 C506.20,330.72 514.33,331.10 517.20,331.30" fill="none" stroke="#333" stroke-width="1.0" />
<line x1="324.50" y1="220.60" x2="324.50" y2="261.70" stroke="#333" stroke-width="1.0" />
<line x1="320.75" y1="220.60" x2="328.25" y2="220.60" stroke="#333" stroke-width="1.0" />
<line x1="320.75" y1="261.70" x2="328.25" y2="261.70" stroke="#333" stroke-width="1.0" />
<line x1="327.20" y1="221.00" x2="327.20" y2="261.75" stroke="#333" stroke-width="1.0" />
<line x1="323.45" y1="221.00" x2="330.95" y2="221.00" stroke="#333" stroke-width="1.0" />
<line x1="323.45" y1="261.75" x2="330.95" y2="261.75" stroke="#333" stroke-width="1.0" />
<line x1="330.00" y1="223.50" x2="330.00" y2="264.75" stroke="#333" stroke-width="1.0" />
<line x1="326.25" y1="223.50" x2="333.75" y2="223.50" stroke="#333" stroke-width="1.0" />
<line x1="326.25" y1="264.75" x2="333.75" y2="264.75" stroke="#333" stroke-width="1.0" />
<line x1="335.50" y1="243.50" x2="335.50" y2="276.00" stroke="#333" stroke-width="1.0" />
<line x1="331.75" y1="243.50" x2="339.25" y2="243.50" stroke="#333" stroke-width="1.0" />
<line x1="331.75" y1="276.00" x2="339.25" y2="276.00" stroke="#333" stroke-width="1.0" />
<line x1="346.40" y1="262.50" x2="346.40" y2="301.80" stroke="#333" stroke-width="1.0" />
<line x1="342.65" y1="262.50" x2="350.15" y2="262.50" stroke="#333" stroke-width="1.0" />
<line x1="342.65" y1="301.80" x2="350.15" y2="301.80" stroke="#333" stroke-width="1.0" />
<line x1="368.40" y1="291.00" x2="368.40" y2="315.00" stroke="#333" stroke-width="1.0" />
<line x1="364.65" y1="291.00" x2="372.15" y2="291.00" stroke="#333" stroke-width="1.0" />
<line x1="364.65" y1="315.00" x2="372.15" y2="315.00" stroke="#333" stroke-width="1.0" />
<line x1="412.30" y1="306.90" x2="412.30" y2="320.80" stroke="#333" stroke-width="1.0" />
<line x1="408.55" y1="306.90" x2="416.05" y2="306.90" stroke="#333" stroke-width="1.0" />
<line x1="408.55" y1="320.80" x2="416.05" y2="320.80" stroke="#333" stroke-width="1.0" />
<polygon points="324.30,246.95 327.55,239.95 321.05,239.95" fill="#fff" stroke="#000" stroke-width="1.45" stroke-linejoin="miter"/>
<polygon points="327.20,245.15 330.45,238.15 323.95,238.15" fill="#fff" stroke="#000" stroke-width="1.45" stroke-linejoin="miter"/>
<polygon points="330.20,248.15 333.45,241.15 326.95,241.15" fill="#fff" stroke="#000" stroke-width="1.45" stroke-linejoin="miter"/>
<polygon points="335.30,263.64 338.55,256.64 332.05,256.64" fill="#fff" stroke="#000" stroke-width="1.45" stroke-linejoin="miter"/>
<polygon points="346.20,285.94 349.45,278.94 342.95,278.94" fill="#fff" stroke="#000" stroke-width="1.45" stroke-linejoin="miter"/>
<polygon points="368.20,306.84 371.45,299.84 364.95,299.84" fill="#fff" stroke="#000" stroke-width="1.45" stroke-linejoin="miter"/>
<polygon points="411.90,317.54 415.15,310.54 408.65,310.54" fill="#fff" stroke="#000" stroke-width="1.45" stroke-linejoin="miter"/>
<polygon points="500.00,334.04 503.25,327.04 496.75,327.04" fill="#fff" stroke="#000" stroke-width="1.45" stroke-linejoin="miter"/>
<rect x="411.60" y="209.40" width="105.60" height="70.10" fill="#fff" stroke="#222" stroke-width="1.1"/>
<line x1="409.60" y1="260.60" x2="411.60" y2="260.60" stroke="#222" stroke-width="1.0" />
<text x="409.30" y="263.50" font-size="8" font-weight="normal" text-anchor="end" fill="#000" stroke="#000" stroke-width="0.2">100</text>
<line x1="409.60" y1="241.70" x2="411.60" y2="241.70" stroke="#222" stroke-width="1.0" />
<text x="409.30" y="244.60" font-size="8" font-weight="normal" text-anchor="end" fill="#000" stroke="#000" stroke-width="0.2">200</text>
<line x1="409.60" y1="222.80" x2="411.60" y2="222.80" stroke="#222" stroke-width="1.0" />
<text x="409.30" y="225.70" font-size="8" font-weight="normal" text-anchor="end" fill="#000" stroke="#000" stroke-width="0.2">300</text>
<line x1="411.60" y1="279.50" x2="411.60" y2="281.50" stroke="#222" stroke-width="1.0" />
<text x="411.60" y="289.30" font-size="8" font-weight="normal" text-anchor="middle" fill="#000" stroke="#000" stroke-width="0.2">0</text>
<line x1="435.10" y1="279.50" x2="435.10" y2="281.50" stroke="#222" stroke-width="1.0" />
<text x="435.10" y="289.30" font-size="8" font-weight="normal" text-anchor="middle" fill="#000" stroke="#000" stroke-width="0.2">2</text>
<line x1="458.60" y1="279.50" x2="458.60" y2="281.50" stroke="#222" stroke-width="1.0" />
<text x="458.60" y="289.30" font-size="8" font-weight="normal" text-anchor="middle" fill="#000" stroke="#000" stroke-width="0.2">4</text>
<line x1="482.10" y1="279.50" x2="482.10" y2="281.50" stroke="#222" stroke-width="1.0" />
<text x="482.10" y="289.30" font-size="8" font-weight="normal" text-anchor="middle" fill="#000" stroke="#000" stroke-width="0.2">6</text>
<line x1="505.60" y1="279.50" x2="505.60" y2="281.50" stroke="#222" stroke-width="1.0" />
<text x="505.60" y="289.30" font-size="8" font-weight="normal" text-anchor="middle" fill="#000" stroke="#000" stroke-width="0.2">8</text>
<polyline points="411.60,211.84 414.54,221.85 417.48,226.01 423.35,236.22 435.10,243.59 458.60,257.01 505.60,272.51 517.12,273.26" fill="none" stroke="#222" stroke-width="1.0" />
<line x1="411.95" y1="211.08" x2="411.95" y2="217.13" stroke="#333" stroke-width="0.9" />
<line x1="409.95" y1="211.08" x2="413.95" y2="211.08" stroke="#333" stroke-width="0.9" />
<line x1="409.95" y1="217.13" x2="413.95" y2="217.13" stroke="#333" stroke-width="0.9" />
<line x1="413.07" y1="215.24" x2="413.07" y2="220.91" stroke="#333" stroke-width="0.9" />
<line x1="411.07" y1="215.24" x2="415.07" y2="215.24" stroke="#333" stroke-width="0.9" />
<line x1="411.07" y1="220.91" x2="415.07" y2="220.91" stroke="#333" stroke-width="0.9" />
<line x1="414.54" y1="218.64" x2="414.54" y2="224.69" stroke="#333" stroke-width="0.9" />
<line x1="412.54" y1="218.64" x2="416.54" y2="218.64" stroke="#333" stroke-width="0.9" />
<line x1="412.54" y1="224.69" x2="416.54" y2="224.69" stroke="#333" stroke-width="0.9" />
<line x1="417.48" y1="222.80" x2="417.48" y2="230.74" stroke="#333" stroke-width="0.9" />
<line x1="415.48" y1="222.80" x2="419.48" y2="222.80" stroke="#333" stroke-width="0.9" />
<line x1="415.48" y1="230.74" x2="419.48" y2="230.74" stroke="#333" stroke-width="0.9" />
<line x1="435.10" y1="240.19" x2="435.10" y2="247.37" stroke="#333" stroke-width="0.9" />
<line x1="433.10" y1="240.19" x2="437.10" y2="240.19" stroke="#333" stroke-width="0.9" />
<line x1="433.10" y1="247.37" x2="437.10" y2="247.37" stroke="#333" stroke-width="0.9" />
<line x1="458.60" y1="250.58" x2="458.60" y2="263.44" stroke="#333" stroke-width="0.9" />
<line x1="456.60" y1="250.58" x2="460.60" y2="250.58" stroke="#333" stroke-width="0.9" />
<line x1="456.60" y1="263.44" x2="460.60" y2="263.44" stroke="#333" stroke-width="0.9" />
<line x1="505.60" y1="268.73" x2="505.60" y2="276.10" stroke="#333" stroke-width="0.9" />
<line x1="503.60" y1="268.73" x2="507.60" y2="268.73" stroke="#333" stroke-width="0.9" />
<line x1="503.60" y1="276.10" x2="507.60" y2="276.10" stroke="#333" stroke-width="0.9" />
<rect x="409.50" y="209.74" width="4.20" height="4.20" fill="#fff" stroke="#000" stroke-width="0.9"/>
<rect x="409.85" y="212.01" width="4.20" height="4.20" fill="#fff" stroke="#000" stroke-width="0.9"/>
<rect x="410.23" y="214.09" width="4.20" height="4.20" fill="#fff" stroke="#000" stroke-width="0.9"/>
<rect x="410.97" y="215.97" width="4.20" height="4.20" fill="#fff" stroke="#000" stroke-width="0.9"/>
<rect x="412.44" y="219.75" width="4.20" height="4.20" fill="#fff" stroke="#000" stroke-width="0.9"/>
<rect x="415.38" y="223.91" width="4.20" height="4.20" fill="#fff" stroke="#000" stroke-width="0.9"/>
<rect x="421.25" y="234.12" width="4.20" height="4.20" fill="#fff" stroke="#000" stroke-width="0.9"/>
<rect x="433.00" y="241.49" width="4.20" height="4.20" fill="#fff" stroke="#000" stroke-width="0.9"/>
<rect x="456.50" y="254.91" width="4.20" height="4.20" fill="#fff" stroke="#000" stroke-width="0.9"/>
<rect x="503.50" y="270.41" width="4.20" height="4.20" fill="#fff" stroke="#000" stroke-width="0.9"/>
<circle cx="435.10" cy="243.59" r="2.0" fill="none" stroke="#000" stroke-width="0.8"/>
<circle cx="414.54" cy="222.80" r="2.0" fill="none" stroke="#000" stroke-width="0.8"/>
<circle cx="417.48" cy="226.96" r="2.0" fill="none" stroke="#000" stroke-width="0.8"/>
<circle cx="505.60" cy="273.45" r="2.0" fill="none" stroke="#000" stroke-width="0.8"/>
<polygon points="411.60,211.59 413.80,215.59 409.40,215.59" fill="none" stroke="#000" stroke-width="0.8" stroke-linejoin="miter"/>
<polygon points="412.33,215.75 414.53,219.75 410.13,219.75" fill="none" stroke="#000" stroke-width="0.8" stroke-linejoin="miter"/>
<polygon points="417.48,226.71 419.68,230.71 415.28,230.71" fill="none" stroke="#000" stroke-width="0.8" stroke-linejoin="miter"/>
</svg></body></html>
